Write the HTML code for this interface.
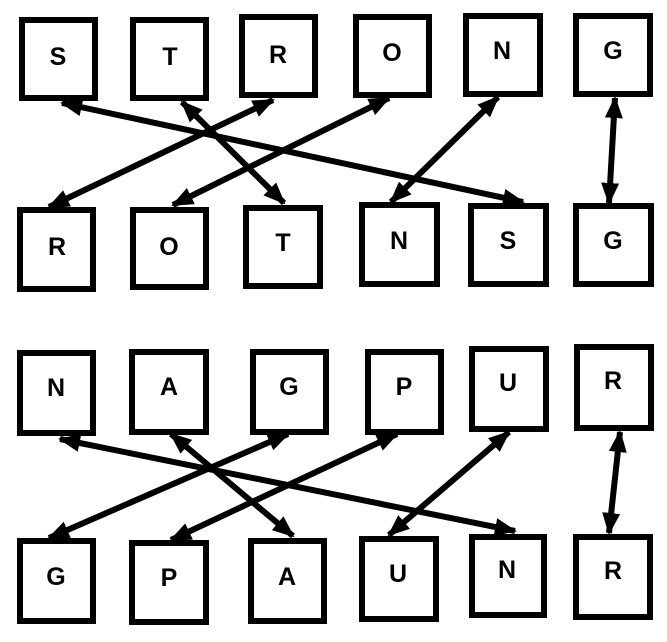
<!DOCTYPE html>
<html><head><style>html,body{margin:0;padding:0;background:#fff}</style></head><body>
<svg width="667" height="637" viewBox="0 0 667 637" xmlns="http://www.w3.org/2000/svg">
<defs>
<marker id="a" markerUnits="userSpaceOnUse" markerWidth="22" markerHeight="20" refX="20" refY="9" orient="auto-start-reverse" viewBox="0 0 22 18">
<path d="M0,0 L22,9 L0,18 z" fill="#000"/></marker>
</defs>
<g fill="#fff" stroke="#000" stroke-width="6">
<rect x="22" y="20" width="73" height="78"/>
<rect x="133" y="20" width="73" height="78"/>
<rect x="242" y="17" width="73" height="78"/>
<rect x="356" y="17" width="73" height="78"/>
<rect x="466" y="16" width="74" height="78"/>
<rect x="576" y="16" width="74" height="78"/>
<rect x="20" y="210" width="73" height="79"/>
<rect x="133" y="210" width="73" height="77"/>
<rect x="246" y="208" width="74" height="78"/>
<rect x="362" y="205" width="75" height="79"/>
<rect x="471" y="206" width="75" height="78"/>
<rect x="576" y="206" width="75" height="78"/>

<rect x="20" y="353" width="73" height="80"/>
<rect x="132" y="352" width="74" height="80"/>
<rect x="253" y="352" width="73" height="80"/>
<rect x="368" y="352" width="73" height="80"/>
<rect x="472" y="349" width="74" height="80"/>
<rect x="577" y="347" width="74" height="81"/>
<rect x="20" y="541" width="73" height="80"/>
<rect x="132" y="543" width="74" height="79"/>
<rect x="251" y="541" width="73" height="80"/>
<rect x="362" y="539" width="74" height="80"/>
<rect x="472" y="537" width="72" height="78"/>
<rect x="576" y="537" width="74" height="80"/>
</g>
<g font-family="Liberation Sans, sans-serif" font-weight="bold" font-size="25" text-anchor="middle">
<text x="58" y="65">S</text><text x="170" y="65">T</text><text x="278" y="63">R</text><text x="392" y="61">O</text><text x="502" y="59">N</text><text x="613" y="59">G</text>
<text x="57" y="255">R</text><text x="169" y="255">O</text><text x="283" y="251">T</text><text x="399" y="249">N</text><text x="508" y="249">S</text><text x="613" y="249">G</text>
<text x="56" y="396">N</text><text x="169" y="395">A</text><text x="289" y="395">G</text><text x="404" y="395">P</text><text x="508" y="391">U</text><text x="613" y="389">R</text>
<text x="56" y="585">G</text><text x="169" y="586">P</text><text x="287" y="585">A</text><text x="398" y="582">U</text><text x="507" y="578">N</text><text x="613" y="579">R</text>
</g>
<g stroke="#000" stroke-width="6" marker-start="url(#a)" marker-end="url(#a)">
<line x1="62" y1="103" x2="523" y2="202"/>
<line x1="182" y1="102" x2="284" y2="203"/>
<line x1="273" y1="100" x2="49" y2="207"/>
<line x1="389" y1="98" x2="173" y2="205"/>
<line x1="498" y1="97" x2="391" y2="202"/>
<line x1="615" y1="98" x2="609" y2="203"/>
<line x1="60" y1="439" x2="515" y2="531"/>
<line x1="171" y1="434" x2="293" y2="536"/>
<line x1="288" y1="434" x2="49" y2="538"/>
<line x1="397" y1="434" x2="171" y2="540"/>
<line x1="509" y1="432" x2="389" y2="535"/>
<line x1="620" y1="432" x2="609" y2="533"/>
</g>
</svg>
</body></html>
